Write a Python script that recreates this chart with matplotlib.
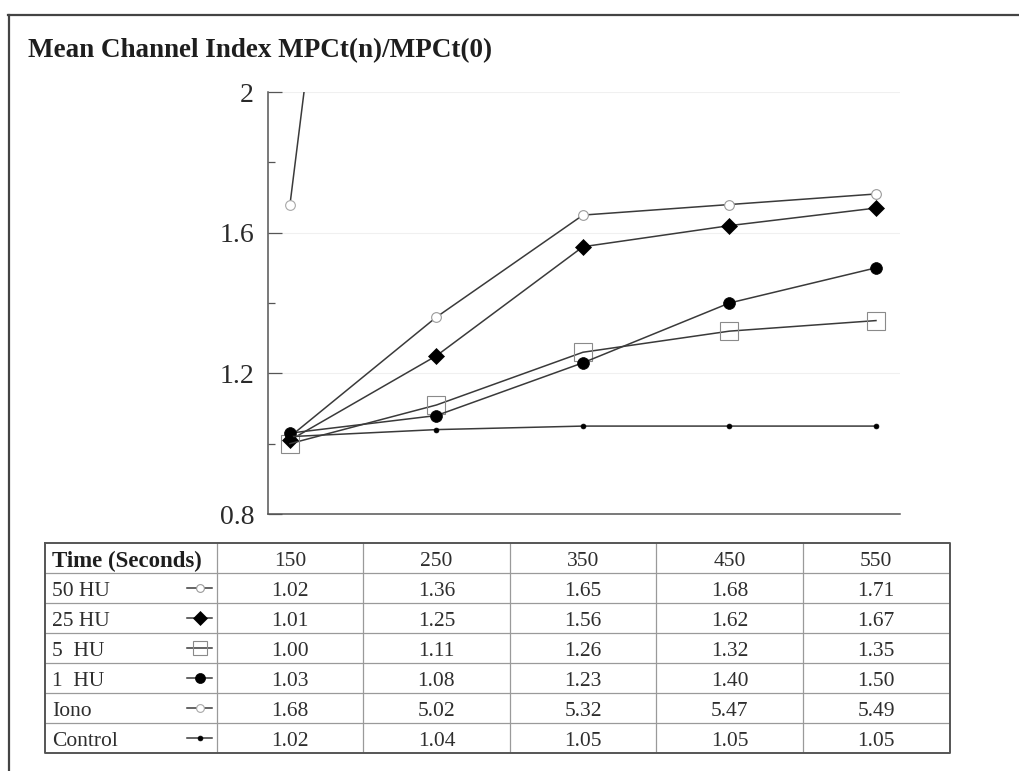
import matplotlib
matplotlib.use("Agg")
import matplotlib.pyplot as plt
from matplotlib.lines import Line2D

plt.rcParams['font.family'] = ['Liberation Serif', 'DejaVu Serif']

times = [150, 250, 350, 450, 550]
names = ["50 HU", "25 HU", "5  HU", "1  HU", "Iono", "Control"]
hu50 = [1.02, 1.36, 1.65, 1.68, 1.71]
hu25 = [1.01, 1.25, 1.56, 1.62, 1.67]
hu5 = [1.00, 1.11, 1.26, 1.32, 1.35]
hu1 = [1.03, 1.08, 1.23, 1.40, 1.50]
iono = [1.68, 5.02, 5.32, 5.47, 5.49]
control = [1.02, 1.04, 1.05, 1.05, 1.05]
series = [hu50, hu25, hu5, hu1, iono, control]

# marker styles per series
styles = [
    dict(marker="o", ms=7, mfc="white", mec="#9a9a9a", mew=0.8),
    dict(marker="D", ms=8, mfc="black", mec="black", mew=0.5),
    dict(marker="s", ms=13, mfc="none", mec="#8a8a8a", mew=0.8),
    dict(marker="o", ms=8.5, mfc="black", mec="black", mew=0.5),
    dict(marker="o", ms=7, mfc="white", mec="#a8a8a8", mew=0.8),
    dict(marker="o", ms=3.5, mfc="black", mec="black", mew=0.5),
]
legend_scale = [0.8, 0.95, 0.8, 0.85, 0.8, 1.0]
linecol = "#3a3a3a"

W, H = 1020, 771
fig = plt.figure(figsize=(W / 100, H / 100), dpi=100)

# main chart axes
ax = fig.add_axes([268 / W, 257 / H, 632 / W, 422 / H])
x = list(range(len(times)))
for vals, st in zip(series, styles):
    ax.plot(x, vals, color=linecol, lw=1.1, zorder=3, **st)
ax.set_xlim(-0.15, 4.164)
ax.set_ylim(0.8, 2.0)
ax.set_yticks([0.8, 1.2, 1.6, 2.0])
ax.set_yticklabels(["0.8", "1.2", "1.6", "2"])
ax.set_yticks([1.0, 1.4, 1.8], minor=True)
ax.tick_params(axis="y", which="major", direction="in", length=10, width=0.9,
               color="#555555", labelsize=20, labelcolor="#2a2a2a", pad=10)
ax.tick_params(axis="y", which="minor", direction="in", length=5, width=0.9, color="#555555")
ax.set_xticks([])
ax.grid(axis="y", color="#f0f0f0", lw=0.8, zorder=0)
for s in ["top", "right"]:
    ax.spines[s].set_visible(False)
for s in ["left", "bottom"]:
    ax.spines[s].set_color("#555555")
    ax.spines[s].set_linewidth(1.1)

# table axes aligned with chart columns
tx0, tx1 = -1.672, 4.505
tab = fig.add_axes([45 / W, 18 / H, 905 / W, 210 / H])
tab.set_xlim(tx0, tx1)
tab.set_ylim(7, 0)
tab.axis("off")
nrows = len(names) + 1
for r in range(1, nrows):
    tab.plot([tx0, tx1], [r, r], color="#9a9a9a", lw=0.9)
for c in range(len(times)):
    tab.plot([c - 0.5, c - 0.5], [0, nrows], color="#9a9a9a", lw=0.9)
tab.plot([tx0, tx1, tx1, tx0, tx0], [0, 0, nrows, nrows, 0], color="#555555", lw=1.4,
         clip_on=False)

fs = 15.5
tcol = "#2e2e2e"
tab.text(tx0 + 0.05, 0.52, "Time (Seconds)", fontsize=16.5, fontweight="bold",
         color="#1e1e1e", va="center_baseline", ha="left")
for c, t in enumerate(times):
    tab.text(c, 0.52, str(t), fontsize=fs, color=tcol, va="center_baseline", ha="center")
for r, (nm, vals, st, k) in enumerate(zip(names, series, styles, legend_scale), start=1):
    tab.text(tx0 + 0.05, r + 0.52, nm, fontsize=fs, color=tcol, va="center_baseline", ha="left")
    sst = dict(st)
    sst["ms"] = st["ms"] * k
    tab.plot([-0.70, -0.53], [r + 0.5, r + 0.5], color=linecol, lw=1.1, clip_on=False)
    tab.plot([-0.615], [r + 0.5], ls="none", clip_on=False, **sst)
    for c, v in enumerate(vals):
        tab.text(c, r + 0.52, f"{v:.2f}", fontsize=fs, color=tcol, va="center_baseline",
                 ha="center")

# title and outer frame
fig.text(28 / W, 1 - 57 / H, "Mean Channel Index MPCt(n)/MPCt(0)", fontsize=19.5,
         fontweight="bold", color="#1e1e1e", va="baseline", ha="left")
fig.add_artist(Line2D([8 / W, 1.0], [1 - 15 / H, 1 - 15 / H], color="#444444", lw=1.6))
fig.add_artist(Line2D([9 / W, 9 / W], [0, 1 - 15 / H], color="#444444", lw=1.6))

fig.savefig("out.png", dpi=100)
